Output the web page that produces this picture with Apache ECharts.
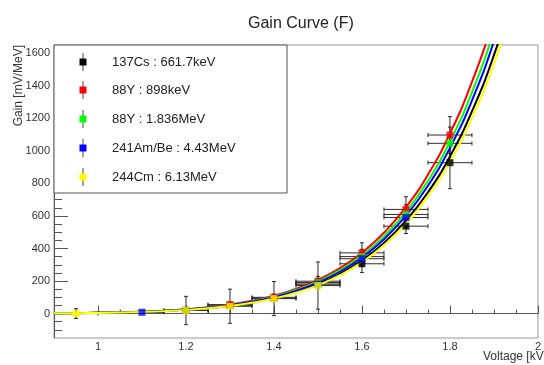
<!DOCTYPE html>
<html><head><meta charset="utf-8">
<script src="https://cdn.jsdelivr.net/npm/echarts@6/dist/echarts.min.js"></script>
<style>html,body{margin:0;padding:0;background:#fff}#c{width:544px;height:365px}</style>
</head><body><div id="c"></div>
<script>
const seriesNames = ['137Cs : 661.7keV', '88Y : 898keV', '88Y : 1.836MeV', '241Am/Be : 4.43MeV', '244Cm : 6.13MeV'];
const seriesColors = ['#000000', '#ff0000', '#00ff00', '#0000ff', '#ffff00'];

// measured points (voltage kV, gain mV/MeV, gain error)
const csV = [1.2, 1.3, 1.4, 1.5, 1.6, 1.7, 1.8];
const csGain = [20, 51, 95, 189, 306, 537, 927];
const csErr = [10, 12, 15, 20, 54, 45, 160];
const y898V = [1.3, 1.4, 1.5, 1.6, 1.7, 1.8];
const y898Gain = [55, 100, 199, 373, 640, 1097];
const y898Err = [15, 20, 30, 62, 78, 113];
const y1836V = [1.5, 1.6, 1.7, 1.8];
const y1836Gain = [190, 350, 609, 1046];
const y1836Err = [25, 45, 60, 100];
const amV = [1.1, 1.5, 1.6, 1.7];
const amGain = [8, 180, 337, 590];
const amErr = [6, 25, 45, 60];
const cmV = [0.95, 1.2, 1.3, 1.4, 1.5];
const cmGain = [0, 19, 45, 92, 172];
const cmErr = [30, 87, 105, 105, 145];
const voltErr = 0.05;

// fit curves
const curveV = [0.9, 0.95, 1.0, 1.05, 1.1, 1.15, 1.2, 1.25, 1.3, 1.35, 1.4, 1.45, 1.5, 1.55, 1.6, 1.65, 1.7, 1.75, 1.8, 1.85, 1.9, 1.95];
const csCurve = [1.7, 2.7, 4.4, 6.8, 10.4, 15.6, 23.1, 33.7, 48.4, 68.4, 95.6, 132.1, 180.4, 243.9, 326.7, 433.6, 570.7, 745.1, 965.5, 1242, 1588, 2017];
const y898Curve = [1.9, 3.1, 5.0, 7.8, 11.9, 17.9, 26.5, 38.6, 55.4, 78.4, 109.5, 151.3, 206.7, 279.4, 374.2, 496.7, 653.7, 853.5, 1106, 1423, 1819, 2310];
const y1836Curve = [1.8, 3.0, 4.8, 7.4, 11.4, 17.1, 25.3, 36.9, 52.9, 74.9, 104.6, 144.5, 197.4, 266.8, 357.4, 474.3, 624.3, 815.1, 1056, 1359, 1737, 2206];
const amCurve = [1.7, 2.9, 4.6, 7.2, 10.9, 16.5, 24.4, 35.5, 51.0, 72.1, 100.7, 139.2, 190.2, 257.0, 344.3, 457.0, 601.4, 785.2, 1018, 1309, 1673, 2125];
const cmCurve = [1.6, 2.6, 4.2, 6.6, 10.0, 15.1, 22.4, 32.6, 46.8, 66.2, 92.4, 127.7, 174.5, 235.8, 315.8, 419.2, 551.7, 720.4, 933.5, 1201, 1535, 1950];

// ticks
const xMajorTicks = [1, 1.2, 1.4, 1.6, 1.8, 2];
const xMinorTicks = [0.95, 1.05, 1.1, 1.15, 1.25, 1.3, 1.35, 1.45, 1.5, 1.55, 1.65, 1.7, 1.75, 1.85, 1.9, 1.95];
const yMajorTicks = [0, 200, 400, 600, 800, 1000, 1200, 1400, 1600];
const yMinorTicks = [-100, -50, 50, 100, 150, 250, 300, 350, 450, 500, 550, 650, 700, 750, 850, 900, 950, 1050, 1100, 1150, 1250, 1300, 1350, 1450, 1500, 1550, 1650];

const groups = [
  [csV, csGain, csErr, csCurve],
  [y898V, y898Gain, y898Err, y898Curve],
  [y1836V, y1836Gain, y1836Err, y1836Curve],
  [amV, amGain, amErr, amCurve],
  [cmV, cmGain, cmErr, cmCurve]
];

function errRender(params, api) {
  const x = api.value(0), y = api.value(1), ex = api.value(2), ey = api.value(3);
  const c = api.coord([x, y]);
  const l = api.coord([x - ex, y]), r = api.coord([x + ex, y]);
  const t = api.coord([x, y + ey]), b = api.coord([x, y - ey]);
  const st = { stroke: '#2a2a2a', lineWidth: 1 };
  const cap = 2;
  return { type: 'group', children: [
    { type: 'line', shape: { x1: l[0], y1: c[1], x2: r[0], y2: c[1] }, style: st },
    { type: 'line', shape: { x1: c[0], y1: t[1], x2: c[0], y2: b[1] }, style: st },
    { type: 'line', shape: { x1: l[0], y1: c[1] - cap, x2: l[0], y2: c[1] + cap }, style: st },
    { type: 'line', shape: { x1: r[0], y1: c[1] - cap, x2: r[0], y2: c[1] + cap }, style: st },
    { type: 'line', shape: { x1: c[0] - cap, y1: t[1], x2: c[0] + cap, y2: t[1] }, style: st },
    { type: 'line', shape: { x1: c[0] - cap, y1: b[1], x2: c[0] + cap, y2: b[1] }, style: st }
  ]};
}

const series = [];
groups.forEach((g, i) => {
  series.push({
    type: 'custom', name: seriesNames[i] + ' err', renderItem: errRender, clip: true, z: 1,
    data: g[0].map((v, k) => [v, g[1][k], voltErr, g[2][k]]), silent: true
  });
});
groups.forEach((g, i) => {
  series.push({
    type: 'line', name: seriesNames[i] + ' fit', data: curveV.map((v, k) => [v, g[3][k]]),
    showSymbol: false, smooth: true, clip: true, z: 2,
    lineStyle: { color: seriesColors[i], width: 2 }, silent: true
  });
});
groups.forEach((g, i) => {
  series.push({
    type: 'scatter', name: seriesNames[i], data: g[0].map((v, k) => [v, g[1][k]]),
    symbol: 'rect', symbolSize: 7, z: 3, itemStyle: { color: seriesColors[i] }, clip: true
  });
});

const graphic = [
  { type: 'rect', z: 100, shape: { x: 54, y: 45, width: 233, height: 148 }, style: { fill: '#fff', stroke: '#555', lineWidth: 1 } },
  { type: 'text', z: 100, x: 19, y: 45, rotation: Math.PI / 2,
    style: { text: 'Gain [mV/MeV]', fontFamily: 'Liberation Sans, Arial, sans-serif', fontSize: 12, fill: '#333', align: 'right', verticalAlign: 'middle' } },
  { type: 'text', z: 100, x: 483, y: 357,
    style: { text: 'Voltage [kV]', fontFamily: 'Liberation Sans, Arial, sans-serif', fontSize: 12, fill: '#333', align: 'left', verticalAlign: 'middle' } }
];
const legendRowY = [62, 90, 119, 148, 177];
seriesNames.forEach((n, i) => {
  const y = legendRowY[i];
  graphic.push({ type: 'line', z: 101, shape: { x1: 83, y1: y - 9, x2: 83, y2: y + 9 }, style: { stroke: '#444', lineWidth: 1 } });
  graphic.push({ type: 'rect', z: 102, shape: { x: 79.5, y: y - 3.5, width: 7, height: 7 }, style: { fill: seriesColors[i] } });
  graphic.push({ type: 'text', z: 102, x: 112, y: y,
    style: { text: n, fontFamily: 'Liberation Sans, Arial, sans-serif', fontSize: 13, fill: '#222', align: 'left', verticalAlign: 'middle' } });
});

const axisFont = { fontFamily: 'Liberation Sans, Arial, sans-serif', fontSize: 11, color: '#333' };
const chart = echarts.init(document.getElementById('c'), null, { renderer: 'canvas' });
chart.setOption({
  animation: false,
  backgroundColor: '#fff',
  title: { text: 'Gain Curve (F)', left: 243, top: 11,
    textStyle: { fontFamily: 'Liberation Sans, Arial, sans-serif', fontSize: 16, fontWeight: 'normal', color: '#222' } },
  grid: { left: 54, right: -2, top: 45, bottom: 27, show: true, borderColor: '#999', borderWidth: 1, backgroundColor: 'transparent' },
  xAxis: [
    { type: 'value', min: 0.9, max: 2.0, position: 'bottom', offset: 0,
      axisLine: { show: true, lineStyle: { color: '#555', width: 1 } },
      axisTick: { show: true, inside: true, length: 8, customValues: xMajorTicks, lineStyle: { color: '#555' } },
      axisLabel: { show: true, margin: 3, customValues: xMajorTicks, formatter: v => String(v), ...axisFont },
      splitLine: { show: false }, minorTick: { show: false } },
    { type: 'value', min: 0.9, max: 2.0, position: 'bottom', offset: 0,
      axisLine: { show: false },
      axisTick: { show: true, inside: true, length: 4, customValues: xMinorTicks, lineStyle: { color: '#555' } },
      axisLabel: { show: false }, splitLine: { show: false } }
  ],
  yAxis: [
    { type: 'value', min: -150, max: 1650, position: 'left', offset: 0,
      axisLine: { show: true, lineStyle: { color: '#555', width: 1 } },
      axisTick: { show: true, inside: true, length: 14, customValues: yMajorTicks, lineStyle: { color: '#555' } },
      axisLabel: { show: true, margin: 4, customValues: yMajorTicks, formatter: v => String(v), ...axisFont },
      splitLine: { show: false } },
    { type: 'value', min: -150, max: 1650, position: 'left', offset: 0,
      axisLine: { show: false },
      axisTick: { show: true, inside: true, length: 8, customValues: yMinorTicks, lineStyle: { color: '#555' } },
      axisLabel: { show: false }, splitLine: { show: false } }
  ],
  series: series,
  graphic: graphic
});
</script>
</body></html>
